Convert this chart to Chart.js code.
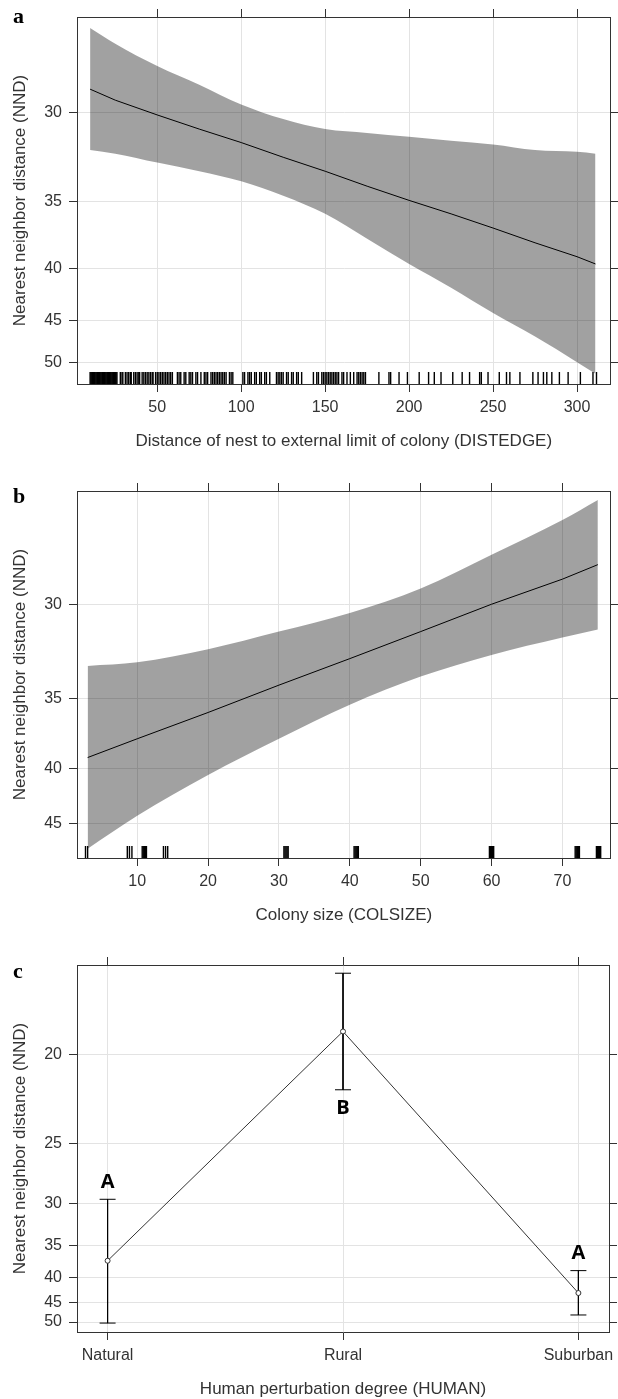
<!DOCTYPE html>
<html>
<head>
<meta charset="utf-8">
<script src="https://cdn.jsdelivr.net/npm/chart.js@4.4.1/dist/chart.umd.min.js"></script>
<style>
  html, body { margin: 0; padding: 0; background: #fff; }
  body { width: 618px; height: 1399px; position: relative; overflow: hidden; }
  .panel { position: absolute; left: 0; width: 618px; height: 460px; }
  .letter { position: absolute; left: 13px; font: bold 22px "Liberation Serif", serif; line-height: 22px; color: #000; }
</style>
</head>
<body>
<div class="panel" style="top:0"><canvas id="chartA" width="618" height="460"></canvas></div>
<div class="panel" style="top:474px"><canvas id="chartB" width="618" height="460"></canvas></div>
<div class="panel" style="top:948px"><canvas id="chartC" width="618" height="460"></canvas></div>
<div class="letter" style="top:5px">a</div>
<div class="letter" style="top:485px">b</div>
<div class="letter" style="top:960px">c</div>
<script>
// panel a: NND vs DISTEDGE (fitted line and 95% band)
const distEdge = [10, 25, 50, 75, 100, 125, 150, 175, 200, 225, 250, 275, 300, 311];
const fitA     = [28.9, 29.4, 30.1, 30.8, 31.5, 32.3, 33.1, 34.0, 34.9, 35.8, 36.8, 37.9, 39.0, 39.6];
const upperA   = [26.4, 27.0, 27.9, 28.7, 29.6, 30.3, 30.8, 31.0, 31.2, 31.4, 31.6, 31.9, 32.0, 32.1];
const lowerA   = [31.9, 32.1, 32.6, 33.1, 33.7, 34.6, 35.8, 37.6, 39.6, 41.7, 44.2, 46.8, 50.0, 51.6];
const rugA = [
  10, 10.5, 11, 11.5, 12, 12.5, 13, 13.5, 14, 14.5, 15, 15.5, 16, 16.5, 17, 17.5, 18, 18.5,
  19, 19.5, 20, 20.5, 21, 21.5, 22, 22.5, 23, 23.5, 24, 24.5, 25, 25.5, 26,
  28, 29, 29.5, 31, 32, 33, 34, 34.5, 36, 37, 38, 39, 39.5, 41, 42, 43, 44, 45, 46, 47, 47.5,
  49, 50, 51, 52, 53, 54, 55, 56, 57, 58, 59,
  62, 63, 64, 66, 67, 69, 70, 71, 73, 74, 76, 78, 79, 80,
  82, 83, 84, 85, 86, 87, 88, 89, 90, 91, 93, 94, 95,
  101, 102, 104, 105, 106, 108, 109, 111, 112, 114, 115, 117,
  121, 122, 123, 124, 125, 127, 128, 130, 131, 133, 134, 136,
  143, 145, 146, 148, 149, 150, 151, 152, 153, 154, 155, 156, 157, 158, 160, 161, 163, 165,
  167, 169, 170, 171, 172, 173, 174,
  182, 188, 189, 194, 199, 206, 211.6, 215, 219, 226, 231.6, 236, 242, 243, 247, 253.7, 258,
  260, 266, 273.7, 276.8, 280, 282, 285, 289.5, 294.7, 302, 309.5, 311.6
];
const xTicksA = [50, 100, 150, 200, 250, 300];
const yTicksA = [30, 35, 40, 45, 50];

// panel b: NND vs COLSIZE
const colSize = [3, 10, 20, 30, 40, 50, 60, 70, 75];
const fitB    = [39.1, 37.7, 35.9, 34.2, 32.7, 31.3, 30.0, 28.9, 28.3];
const upperB  = [33.1, 32.9, 32.2, 31.3, 30.4, 29.3, 27.9, 26.6, 25.9];
const lowerB  = [47.7, 44.2, 40.5, 37.7, 35.4, 33.7, 32.5, 31.6, 31.2];
const rugB = [
  2.7, 3.0, 8.6, 8.9, 9.25, 10.7, 10.85, 11.0, 11.15, 11.3, 13.7, 14.0, 14.3,
  30.7, 30.85, 31.0, 31.15, 31.3, 40.6, 40.75, 40.9, 41.05, 41.2,
  59.7, 59.85, 60.0, 60.15, 60.3, 71.8, 71.95, 72.1, 72.25, 72.4,
  74.8, 74.95, 75.1, 75.25, 75.4
];
const xTicksB = [10, 20, 30, 40, 50, 60, 70];
const yTicksB = [30, 35, 40, 45];

// panel c: NND by HUMAN with 95% intervals and group letters
const human  = ['Natural', 'Rural', 'Suburban'];
const meanC  = [37.2, 19.0, 43.0];
const lowC   = [29.6, 16.9, 38.8];
const highC  = [50.3, 21.7, 48.1];
const groupC = ['A', 'B', 'A'];
const yTicksC = [20, 25, 30, 35, 40, 45, 50];

const INK = '#333';
const GRID = '#e3e3e3';
const BAND = 'rgba(0,0,0,0.37)';

Chart.defaults.font.family = '"Liberation Sans", Arial, sans-serif';
Chart.defaults.font.size = 16;
Chart.defaults.color = INK;

// y axes of the figure are on a reciprocal (inverse link) scale
class ReciprocalScale extends Chart.Scale {
  static id = 'reciprocal';
  static defaults = {};
  determineDataLimits() {
    this.min = this.options.min;
    this.max = this.options.max;
  }
  buildTicks() {
    return this.options.tickValues.map(v => ({ value: v }));
  }
  getPixelForValue(v) {
    const lo = 1 / this.max, hi = 1 / this.min;
    return this.getPixelForDecimal((1 / v - lo) / (hi - lo));
  }
  getValueForPixel(p) {
    const lo = 1 / this.max, hi = 1 / this.min;
    return 1 / (lo + this.getDecimalForPixel(p) * (hi - lo));
  }
}
Chart.register(ReciprocalScale);

function makeScales(x, y) {
  const setX = s => { s.ticks = x.ticks.map(v => ({ value: v })); };
  const border = { display: true, color: INK, width: 1 };
  return {
    x: {
      type: 'linear', position: 'bottom', min: x.min, max: x.max,
      afterBuildTicks: setX,
      afterFit: s => { s.height = 76; s.paddingLeft = 0; s.paddingRight = 0; },
      grid: { color: GRID, tickColor: INK, tickLength: 8 },
      border,
      ticks: { color: INK, padding: 6, maxRotation: 0, autoSkip: false, callback: x.label },
      title: { display: true, text: x.title, color: INK, font: { size: 17 }, padding: { top: 0, bottom: 8 } }
    },
    x2: {
      type: 'linear', position: 'top', min: x.min, max: x.max,
      afterBuildTicks: setX,
      grid: { drawOnChartArea: false, tickColor: INK, tickLength: 8 },
      border,
      ticks: { display: false }
    },
    y: {
      type: 'reciprocal', position: 'left', min: y.min, max: y.max, tickValues: y.ticks,
      afterFit: s => { s.width = 77; },
      grid: { color: GRID, tickColor: INK, tickLength: 8 },
      border,
      ticks: { color: INK, padding: 7, autoSkip: false },
      title: { display: true, text: 'Nearest neighbor distance (NND)', color: INK, font: { size: 17 }, padding: { top: 10, bottom: 0 } }
    },
    y2: {
      type: 'reciprocal', position: 'right', min: y.min, max: y.max, tickValues: y.ticks,
      afterFit: s => { s.width = 5; },
      grid: { drawOnChartArea: false, tickColor: INK, tickLength: 8 },
      border,
      ticks: { display: false }
    },
    yRug: { type: 'linear', axis: 'y', display: false, min: 0, max: 367 }
  };
}

function bandDatasets(xs, fit, upper, lower, rug) {
  return [
    { data: xs.map((x, i) => ({ x, y: upper[i] })), borderWidth: 0, pointRadius: 0, fill: '+1',
      backgroundColor: BAND, cubicInterpolationMode: 'monotone' },
    { data: xs.map((x, i) => ({ x, y: lower[i] })), borderWidth: 0, pointRadius: 0, fill: false,
      cubicInterpolationMode: 'monotone' },
    { data: xs.map((x, i) => ({ x, y: fit[i] })), borderColor: '#000', borderWidth: 1, pointRadius: 0, fill: false },
    { type: 'scatter', yAxisID: 'yRug', data: rug.map(x => ({ x, y: 6 })),
      pointStyle: 'line', rotation: 90, pointRadius: 6, borderColor: '#000', borderWidth: 1.4 }
  ];
}

const baseOptions = {
  responsive: false,
  animation: false,
  layout: { padding: { top: 9, left: 0, right: 0, bottom: 0 } },
  plugins: { legend: { display: false }, tooltip: { enabled: false } }
};

new Chart(document.getElementById('chartA'), {
  type: 'line',
  data: { datasets: bandDatasets(distEdge, fitA, upperA, lowerA, rugA) },
  options: {
    ...baseOptions,
    scales: makeScales(
      { min: 2.2, max: 320, ticks: xTicksA, title: 'Distance of nest to external limit of colony (DISTEDGE)' },
      { min: 26.0, max: 53.1, ticks: yTicksA })
  }
});

new Chart(document.getElementById('chartB'), {
  type: 'line',
  data: { datasets: bandDatasets(colSize, fitB, upperB, lowerB, rugB) },
  options: {
    ...baseOptions,
    scales: makeScales(
      { min: 1.5, max: 76.8, ticks: xTicksB, title: 'Colony size (COLSIZE)' },
      { min: 25.6, max: 48.8, ticks: yTicksB })
  }
});

// group letters above/below the interval ends
const groupLetters = {
  id: 'groupLetters',
  afterDatasetsDraw(chart) {
    const { ctx, scales: { x, y } } = chart;
    ctx.save();
    ctx.font = 'bold 20px "Open Sans", sans-serif';
    ctx.fillStyle = '#000';
    ctx.textAlign = 'center';
    ctx.textBaseline = 'middle';
    groupC.forEach((g, i) => {
      const above = meanC[i] > 25;
      const py = above ? y.getPixelForValue(lowC[i]) - 17 : y.getPixelForValue(highC[i]) + 19;
      ctx.fillText(g, x.getPixelForValue(i), py);
    });
    ctx.restore();
  }
};

const errorBars = human.map((h, i) => ({
  data: [{ x: i, y: lowC[i] }, { x: i, y: highC[i] }],
  borderColor: '#000', borderWidth: 1,
  pointStyle: 'line', pointRadius: 8, pointBorderWidth: 1, pointBorderColor: '#000', fill: false
}));

new Chart(document.getElementById('chartC'), {
  type: 'line',
  data: {
    datasets: [
      { data: meanC.map((m, i) => ({ x: i, y: m })), borderColor: INK, borderWidth: 1, fill: false,
        pointStyle: 'circle', pointRadius: 2.5, pointBorderWidth: 1, pointBorderColor: INK, pointBackgroundColor: '#fff' },
      ...errorBars
    ]
  },
  options: {
    ...baseOptions,
    scales: makeScales(
      { min: -0.13, max: 2.13, ticks: [0, 1, 2], label: v => human[v], title: 'Human perturbation degree (HUMAN)' },
      { min: 16.64, max: 52.97, ticks: yTicksC })
  },
  plugins: [groupLetters]
});
</script>
</body>
</html>
